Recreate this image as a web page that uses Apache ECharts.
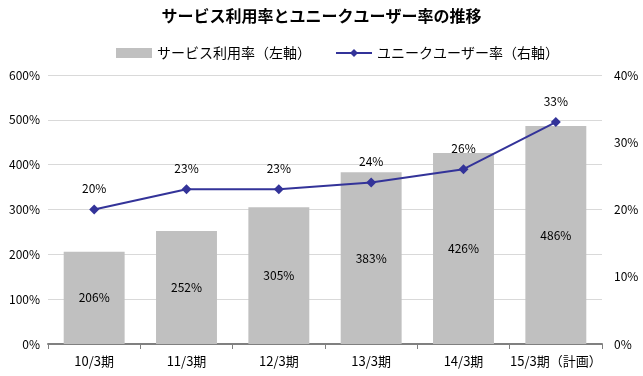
<!DOCTYPE html>
<html>
<head>
<meta charset="utf-8">
<script src="https://cdn.jsdelivr.net/npm/echarts@6/dist/echarts.min.js"></script>
<style>
  html, body { margin: 0; padding: 0; background: #fff; }
  #chart { width: 643px; height: 376px; }
</style>
</head>
<body>
<div id="chart"></div>
<script>
// データ
const categories = ['10/3期', '11/3期', '12/3期', '13/3期', '14/3期', '15/3期（計画）'];
const serviceRate = [206, 252, 305, 383, 426, 486];   // 左軸
const uniqueRate = [20, 23, 23, 24, 26, 33];          // 右軸

const font = '"Noto Sans CJK JP", "Noto Sans", sans-serif';

const chart = echarts.init(document.getElementById('chart'));

const option = {
  textStyle: { fontFamily: font },
  title: {
    text: 'サービス利用率とユニークユーザー率の推移',
    left: 'center',
    top: 3,
    textStyle: { fontSize: 16, fontWeight: 'bold', color: '#000', fontFamily: font }
  },
  legend: {
    top: 41,
    left: 111,
    itemGap: 24,
    itemWidth: 36,
    itemHeight: 10,
    textStyle: { fontSize: 14, color: '#000', fontFamily: font },
    data: [
      { name: 'サービス利用率（左軸）', icon: 'rect' },
      { name: 'ユニークユーザー率（右軸）' }
    ]
  },
  grid: { left: 48, right: 41, top: 75, bottom: 32 },
  xAxis: {
    type: 'category',
    data: categories,
    axisLine: { lineStyle: { color: '#808080', width: 2 } },
    axisTick: { show: true, length: 5, lineStyle: { color: '#808080' } },
    axisLabel: { color: '#000', fontSize: 13, margin: 11, interval: 0 }
  },
  yAxis: [
    {
      type: 'value',
      min: 0, max: 600, interval: 100,
      axisLabel: { formatter: '{value}%', color: '#000', fontSize: 12 },
      axisLine: { show: false },
      axisTick: { show: false },
      splitLine: { lineStyle: { color: '#d9d9d9' } }
    },
    {
      type: 'value',
      min: 0, max: 40, interval: 10,
      axisLabel: { formatter: '{value}%', color: '#000', fontSize: 12, margin: 12 },
      axisLine: { show: false },
      axisTick: { show: false },
      splitLine: { show: false }
    }
  ],
  series: [
    {
      name: 'サービス利用率（左軸）',
      type: 'bar',
      data: serviceRate,
      barWidth: '66%',
      itemStyle: { color: '#c0c0c0' },
      label: {
        show: true,
        position: 'inside',
        formatter: '{c}%',
        color: '#000',
        fontSize: 12
      }
    },
    {
      name: 'ユニークユーザー率（右軸）',
      type: 'line',
      yAxisIndex: 1,
      data: uniqueRate,
      symbol: 'diamond',
      symbolSize: 10,
      lineStyle: { color: '#333399', width: 2 },
      itemStyle: { color: '#333399' },
      label: {
        show: true,
        position: 'top',
        distance: 10,
        formatter: '{c}%',
        color: '#000',
        fontSize: 12
      }
    }
  ]
};

chart.setOption(option);
</script>
</body>
</html>
